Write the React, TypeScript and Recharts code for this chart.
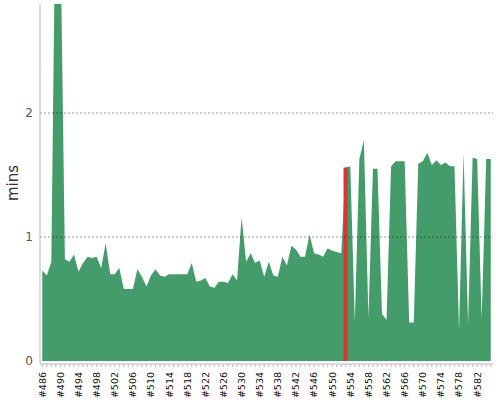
import {
  Area,
  Bar,
  ComposedChart,
  Label,
  ReferenceLine,
  XAxis,
  YAxis,
} from "recharts";

// build numbers on the x axis (#486 .. #585)
const builds = [
  486, 487, 488, 489, 490, 491, 492, 493, 494, 495,
  496, 497, 498, 499, 500, 501, 502, 503, 504, 505,
  506, 507, 508, 509, 510, 511, 512, 513, 514, 515,
  516, 517, 518, 519, 520, 521, 522, 523, 524, 525,
  526, 527, 528, 529, 530, 531, 532, 533, 534, 535,
  536, 537, 538, 539, 540, 541, 542, 543, 544, 545,
  546, 547, 548, 549, 550, 551, 552, 553, 554, 555,
  556, 557, 558, 559, 560, 561, 562, 563, 564, 565,
  566, 567, 568, 569, 570, 571, 572, 573, 574, 575,
  576, 577, 578, 579, 580, 581, 582, 583, 584, 585,
];

// build duration in minutes
const durations = [
  0.73, 0.69, 0.8, 4.0, 3.5, 0.82, 0.8, 0.86, 0.72, 0.79,
  0.84, 0.83, 0.84, 0.75, 0.95, 0.7, 0.7, 0.75, 0.58, 0.58,
  0.58, 0.74, 0.68, 0.6, 0.69, 0.74, 0.69, 0.68, 0.7, 0.7,
  0.7, 0.7, 0.7, 0.79, 0.64, 0.65, 0.67, 0.6, 0.59, 0.64,
  0.64, 0.63, 0.7, 0.65, 1.16, 0.8, 0.87, 0.79, 0.81, 0.68,
  0.8, 0.69, 0.68, 0.84, 0.77, 0.93, 0.9, 0.84, 0.84, 1.02,
  0.87, 0.86, 0.84, 0.91, 0.89, 0.88, 0.87, 1.56, 1.57, 0.32,
  1.63, 1.78, 0.35, 1.55, 1.55, 0.38, 0.33, 1.57, 1.61, 1.61,
  1.61, 0.31, 0.31, 1.59, 1.61, 1.68, 1.58, 1.62, 1.58, 1.6,
  1.57, 1.57, 0.25, 1.68, 0.3, 1.64, 1.63, 0.34, 1.63, 1.63,
];

// the highlighted (failed) build
const selectedBuild = 553;

const yTicks = [0, 1, 2];
const gridLines = [1, 2];

const data = builds.map((b, i) => ({
  build: `#${b}`,
  mins: durations[i],
  selected: b === selectedBuild ? durations[i] : null,
}));

function BuildTick(props: any) {
  const { x, y, payload } = props;
  const n = Number(String(payload.value).slice(1));
  if ((n - builds[0]) % 4 !== 0) return <g />;
  return (
    <text
      x={x}
      y={y + 3}
      dy="0.36em"
      transform={`rotate(-90 ${x} ${y + 3})`}
      textAnchor="end"
      fontSize={9.5}
      fontFamily="DejaVu Sans"
      fill="#111"
    >
      {payload.value}
    </text>
  );
}

export default function App() {
  return (
    <div
      style={{
        position: "absolute",
        left: 0,
        top: 0,
        width: 500,
        height: 400,
        background: "#fff",
        fontFamily: "DejaVu Sans",
      }}
    >
      <ComposedChart
        width={500}
        height={400}
        data={data}
        margin={{ top: 4, right: 7, bottom: 0, left: 0 }}
      >
        <XAxis
          dataKey="build"
          height={36}
          interval={0}
          tickSize={3}
          tickMargin={2}
          stroke="#bbb"
          tick={<BuildTick />}
        />
        <YAxis
          width={40}
          domain={[-0.024, 2.879]}
          ticks={yTicks}
          allowDataOverflow
          tickLine={false}
          tickSize={5}
          tickMargin={2}
          stroke="#bbb"
          tick={{ fill: "#555", fontSize: 12, fontFamily: "DejaVu Sans" }}
        >
          <Label
            content={() => (
              <text
                x={13}
                y={183}
                transform="rotate(-90 13 183)"
                textAnchor="middle"
                dominantBaseline="central"
                fontSize={15}
                fontFamily="DejaVu Sans"
                fill="#333"
              >
                mins
              </text>
            )}
          />
        </YAxis>
        <Area
          type="linear"
          dataKey="mins"
          stroke="none"
          fill="#459c6b"
          fillOpacity={1}
          isAnimationActive={false}
          dot={false}
          activeDot={false}
        />
        <Bar
          dataKey="selected"
          fill="#d43a33"
          barSize={5}
          isAnimationActive={false}
        />
        {gridLines.map((v) => (
          <ReferenceLine
            key={v}
            y={v}
            stroke="#000"
            strokeOpacity={0.4}
            strokeDasharray="2 2"
          />
        ))}
      </ComposedChart>
    </div>
  );
}
